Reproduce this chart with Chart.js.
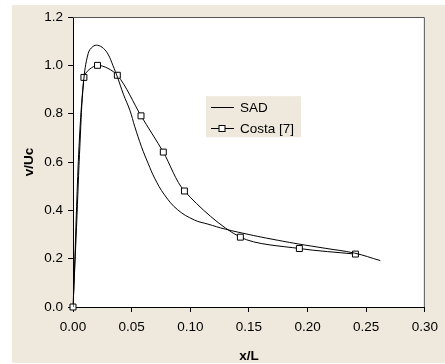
<!DOCTYPE html>
<html>
<head>
<meta charset="utf-8">
<script src="https://cdn.jsdelivr.net/npm/chart.js@4"></script>
<style>
  html, body { margin: 0; padding: 0; background: #fff; }
  #wrap { width: 445px; height: 364px; }
</style>
</head>
<body>
<div id="wrap"><canvas id="myChart" width="445" height="364"></canvas></div>
<script>
// SAD simulation curve (no markers)
const sadX = [0, 0.003, 0.006, 0.009, 0.013, 0.017, 0.021, 0.026, 0.030, 0.034, 0.038, 0.043, 0.0485, 0.0527, 0.0584, 0.064, 0.0696, 0.078, 0.0893, 0.1035, 0.115, 0.130, 0.150, 0.165, 0.192, 0.215, 0.240, 0.262];
const sadY = [0, 0.33, 0.68, 0.93, 1.05, 1.078, 1.083, 1.07, 1.045, 1.0, 0.95, 0.88, 0.814, 0.746, 0.663, 0.595, 0.533, 0.464, 0.402, 0.36, 0.343, 0.322, 0.300, 0.285, 0.261, 0.243, 0.223, 0.192];

// Costa [7] measured points
const costaX = [0, 0.0093, 0.0209, 0.0378, 0.058, 0.077, 0.095, 0.1427, 0.193, 0.2408];
const costaY = [0, 0.95, 1.0, 0.959, 0.791, 0.641, 0.48, 0.289, 0.242, 0.219];

const xTicks = [0, 0.05, 0.10, 0.15, 0.20, 0.25, 0.30];
const yTicks = [0, 0.2, 0.4, 0.6, 0.8, 1.0, 1.2];

const FONT = 'Arial, "Liberation Sans", sans-serif';
const BEIGE = '#efe8dc';

const toPoints = (xs, ys) => xs.map((x, i) => ({ x: x, y: ys[i] }));

const backgroundPlugin = {
  id: 'backgroundPlugin',
  beforeDraw(chart) {
    const ctx = chart.ctx;
    const a = chart.chartArea;
    ctx.save();
    ctx.fillStyle = '#fff';
    ctx.fillRect(0, 0, chart.width, chart.height);
    ctx.fillStyle = BEIGE;
    ctx.fillRect(12, 5, chart.width - 12, chart.height - 6);
    ctx.fillStyle = '#fff';
    ctx.fillRect(a.left, a.top, a.right - a.left, a.bottom - a.top);
    ctx.restore();
  },
  afterDraw(chart) {
    const ctx = chart.ctx;
    const a = chart.chartArea;
    ctx.save();
    // top and right frame of the plot area
    ctx.strokeStyle = '#555';
    ctx.lineWidth = 1;
    ctx.beginPath();
    ctx.moveTo(a.left, a.top + 0.5);
    ctx.lineTo(a.right - 0.5, a.top + 0.5);
    ctx.lineTo(a.right - 0.5, a.bottom);
    ctx.stroke();

    // legend box inside the plot
    const bx = a.left + (a.right - a.left) * 0.378;
    const by = a.top + (a.bottom - a.top) * 0.273;
    const bw = 95, bh = 41;
    ctx.fillStyle = BEIGE;
    ctx.fillRect(bx, by, bw, bh);
    ctx.strokeStyle = '#000';
    ctx.fillStyle = '#000';
    ctx.font = '13.5px ' + FONT;
    ctx.textBaseline = 'middle';
    const rows = [['SAD', false], ['Costa [7]', true]];
    rows.forEach((r, i) => {
      const yy = Math.round(by + 11 + i * 20.5) + 0.5;
      ctx.beginPath();
      ctx.moveTo(bx + 5, yy);
      ctx.lineTo(bx + 28, yy);
      ctx.stroke();
      if (r[1]) {
        ctx.fillStyle = '#fff';
        ctx.fillRect(bx + 13, yy - 3, 6, 6);
        ctx.strokeRect(bx + 13, yy - 3, 6, 6);
        ctx.fillStyle = '#000';
      }
      ctx.fillText(r[0], bx + 34, yy + 1);
    });
    ctx.restore();
  }
};

const ctx = document.getElementById('myChart');

const chartConfig = {
  type: 'scatter',
  data: {
    datasets: [
      {
        label: 'SAD',
        data: toPoints(sadX, sadY),
        showLine: true,
        borderColor: '#000',
        borderWidth: 1,
        pointRadius: 0,
        tension: 0.4
      },
      {
        label: 'Costa [7]',
        data: toPoints(costaX, costaY),
        showLine: true,
        borderColor: '#000',
        borderWidth: 1,
        pointStyle: 'rect',
        pointRadius: 4.2,
        pointBackgroundColor: '#fff',
        pointBorderColor: '#000',
        pointBorderWidth: 1,
        tension: 0.3,
        clip: false
      }
    ]
  },
  options: {
    animation: false,
    responsive: false,
    layout: { padding: { left: 0, right: 18, top: 17, bottom: 0 } },
    plugins: {
      legend: { display: false },
      tooltip: { enabled: false }
    },
    scales: {
      x: {
        type: 'linear',
        min: 0,
        max: 0.3,
        afterBuildTicks(scale) { scale.ticks = xTicks.map(v => ({ value: v })); },
        afterFit(scale) { scale.height = 57; },
        ticks: {
          color: '#000',
          font: { family: FONT, size: 13.5 },
          padding: 7,
          maxRotation: 0,
          callback: v => v.toFixed(2)
        },
        grid: { drawOnChartArea: false, drawTicks: true, tickLength: 5, color: '#000' },
        border: { color: '#000', width: 1 },
        title: {
          display: true,
          text: 'x/L',
          color: '#000',
          font: { family: FONT, size: 13.5, weight: 'bold' },
          padding: { top: 4, bottom: 0 }
        }
      },
      y: {
        type: 'linear',
        min: 0,
        max: 1.2,
        afterBuildTicks(scale) { scale.ticks = yTicks.map(v => ({ value: v })); },
        afterFit(scale) { scale.width = 73; },
        ticks: {
          color: '#000',
          font: { family: FONT, size: 13.5 },
          padding: 5,
          callback: v => v.toFixed(1)
        },
        grid: { drawOnChartArea: false, drawTicks: true, tickLength: 5, color: '#000' },
        border: { color: '#000', width: 1 },
        title: {
          display: true,
          text: 'v/Uc',
          color: '#000',
          font: { family: FONT, size: 13.5, weight: 'bold' },
          padding: { top: 21, bottom: 0 }
        }
      }
    }
  },
  plugins: [backgroundPlugin]
};

const myChart = new Chart(ctx, chartConfig);
</script>
</body>
</html>
